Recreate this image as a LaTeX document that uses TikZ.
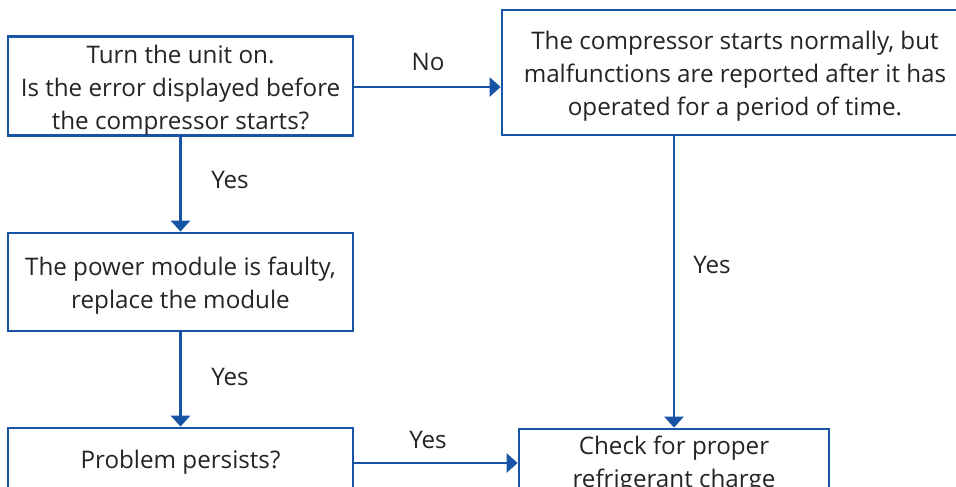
\documentclass[tikz,border=0pt]{standalone}
\usepackage{fontspec}
\setmainfont{Open Sans}
\usetikzlibrary{arrows.meta}
\definecolor{bord}{RGB}{24,84,166}
\definecolor{txt}{RGB}{34,36,38}
\begin{document}
\begin{tikzpicture}[x=1pt,y=-1pt,
  box/.style={draw=bord,line width=2.8pt,fill=white,inner sep=0pt},
  btxt/.style={text=txt,align=center,inner sep=0pt,yshift=-4pt,
    font=\fontsize{24.2}{33}\selectfont},
  lbl/.style={text=txt,font=\fontsize{24.2}{33}\selectfont,inner sep=0pt},
  arr/.style={draw=bord,line width=2.8pt,-{Triangle[length=11pt,width=19pt]}}]
\useasboundingbox (0,0) rectangle (956,487);
\clip (0,0) rectangle (956,487);
\node[box,minimum width=345pt,minimum height=99pt] (b1) at (180.5,86) {};
\node[btxt] (t1) at (b1.center) {Turn the unit on.\\Is the error displayed before\\the compressor starts?};
\node[box,minimum width=466pt,minimum height=125pt] (b2) at (735,72.5) {};
\node[btxt] (t2) at (b2.center) {The compressor starts normally, but\\malfunctions are reported after it has\\operated for a period of time.};
\node[box,minimum width=345pt,minimum height=98pt] (b3) at (180.5,282) {};
\node[btxt] (t3) at (b3.center) {The power module is faulty,\\replace the module};
\node[box,minimum width=345pt,minimum height=66pt] (b4) at (180.5,461) {};
\node[btxt,yshift=3pt] (t4) at (b4.center) {Problem persists?};
\node[box,minimum width=310pt,minimum height=64pt] (b5) at (674,461) {};
\node[btxt] (t5) at (b5.center) {Check for proper\\refrigerant charge};
\draw[arr] (b1.east |- 0,87) -- (b2.west |- 0,87);
\draw[arr] (b1.south) -- (b3.north);
\draw[arr] (b3.south) -- (b4.north);
\draw[arr] (b4.east |- 0,463) -- (b5.west |- 0,463);
\draw[arr] (b2.south -| b5.north) -- (b5.north);
\node[lbl] (l1) at (428,62) {No};
\node[lbl] (l2) at (230,180) {Yes};
\node[lbl] (l3) at (230,377) {Yes};
\node[lbl] (l4) at (428,440) {Yes};
\node[lbl] (l5) at (712,265) {Yes};
\end{tikzpicture}
\end{document}
